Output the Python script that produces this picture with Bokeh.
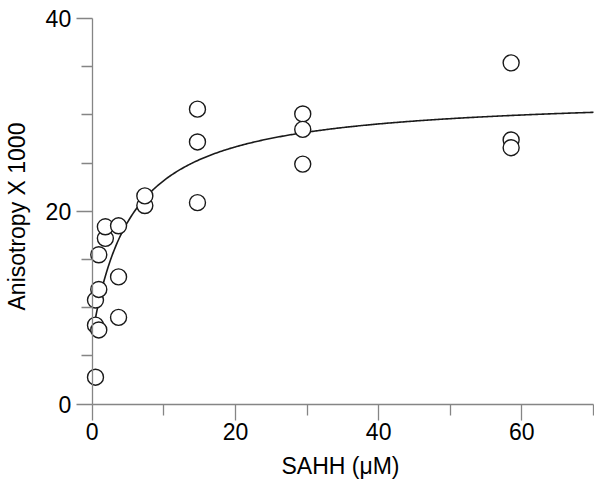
import numpy as np
from bokeh.plotting import figure
from bokeh.models import Range1d, FixedTicker, ColumnDataSource, Title
from bokeh.embed import file_html
from bokeh.resources import INLINE

# ---- data ----
sahh_uM = [0.46, 0.46, 0.46,
           0.92, 0.92, 0.92,
           1.84, 1.84,
           3.68, 3.68, 3.68,
           7.35, 7.35,
           14.7, 14.7, 14.7,
           29.4, 29.4, 29.4,
           58.5, 58.5, 58.5]
anisotropy_x1000 = [2.8, 8.2, 10.8,
                    7.7, 11.9, 15.5,
                    17.2, 18.4,
                    9.0, 13.2, 18.5,
                    20.6, 21.6,
                    30.6, 27.2, 20.9,
                    30.1, 28.5, 24.9,
                    35.4, 27.4, 26.6]

# fitted binding curve (hyperbola) parameters estimated from the drawn line
fit_r0 = 7.0
fit_dr = 25.1
fit_kd = 5.5
fit_x_start = 0.46
fit_x_end = 70.0

x_major = [0, 20, 40, 60]
x_minor = [10, 30, 50, 70]
y_major = [0, 20, 40]
y_minor = [5, 10, 15, 25, 30, 35]

x_title = "SAHH (\u03bcM)"
y_title = "Anisotropy X 1000"

FONT = "Liberation Sans"
AXIS_GRAY = "#858585"

p = figure(width=594, height=483, output_backend="svg", toolbar_location=None,
           x_range=Range1d(-8.615, 70.14), y_range=Range1d(-5.009, 41.867),
           min_border_left=30, min_border_right=0, min_border_top=0, min_border_bottom=31)
p.outline_line_color = None
p.grid.visible = False
p.background_fill_color = "white"
p.border_fill_color = "white"

# fitted curve
cx = np.linspace(fit_x_start, fit_x_end, 400)
cy = fit_r0 + fit_dr * cx / (fit_kd + cx)
p.line(cx, cy, line_color="#1a1a1a", line_width=1.6)

src = ColumnDataSource(dict(x=sahh_uM, y=anisotropy_x1000))
p.scatter("x", "y", source=src, size=16, marker="circle",
          fill_color="white", line_color="#1a1a1a", line_width=1.4)

# axes (both crossing at the origin)
xa = p.xaxis[0]
ya = p.yaxis[0]
xa.ticker = FixedTicker(ticks=x_major, minor_ticks=x_minor)
ya.ticker = FixedTicker(ticks=y_major, minor_ticks=y_minor)
xa.bounds = (0, 70)
ya.bounds = (0, 40)
xa.fixed_location = 0
ya.fixed_location = 0
for ax in (xa, ya):
    ax.axis_line_color = AXIS_GRAY
    ax.axis_line_width = 1.3
    ax.major_tick_line_color = AXIS_GRAY
    ax.minor_tick_line_color = AXIS_GRAY
    ax.major_tick_line_width = 1.3
    ax.minor_tick_line_width = 1.3
    ax.major_tick_in = 0
    ax.minor_tick_in = 0
    ax.major_tick_out = 16
    ax.minor_tick_out = 11
    ax.major_label_text_font = FONT
    ax.major_label_text_font_size = "23px"
    ax.major_label_text_color = "black"
xa.major_label_standoff = 3
ya.major_label_standoff = 5

# axis titles
p.add_layout(Title(text=x_title, align="left", vertical_align="top", offset=251,
                   standoff=0, text_font=FONT, text_font_size="23px",
                   text_font_style="normal", text_color="black"), "below")
p.add_layout(Title(text=y_title, align="left", vertical_align="bottom", offset=142,
                   standoff=2, text_font=FONT, text_font_size="23px",
                   text_font_style="normal", text_color="black"), "left")

open("out.html", "w").write(file_html(p, INLINE))
